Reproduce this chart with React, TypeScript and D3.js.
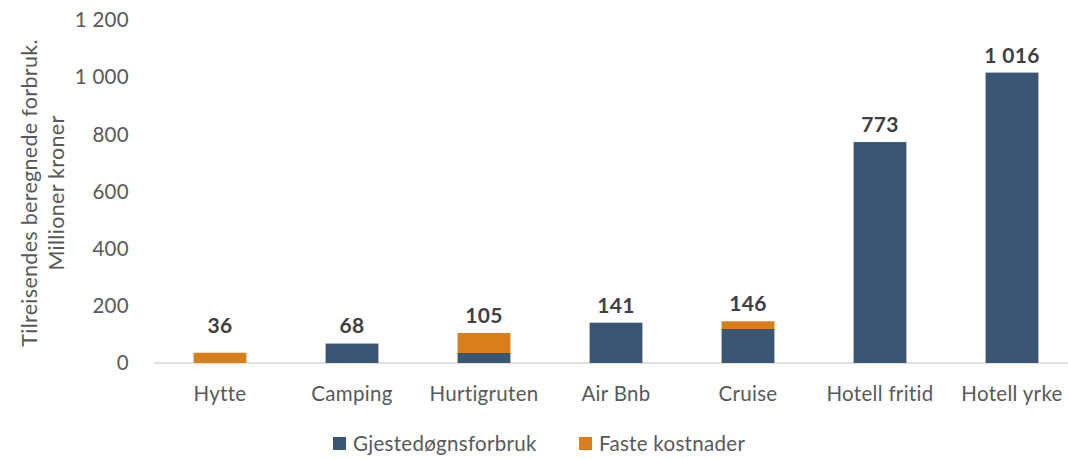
import React from "react";
import * as d3 from "d3";

const categories = ["Hytte", "Camping", "Hurtigruten", "Air Bnb", "Cruise", "Hotell fritid", "Hotell yrke"];
const gjestedogn = [0, 68, 35, 141, 119, 773, 1016];
const fasteKostnader = [36, 0, 70, 0, 27, 0, 0];
const totals = [36, 68, 105, 141, 146, 773, 1016];
const yTicks = [0, 200, 400, 600, 800, 1000, 1200];
const seriesNames = ["Gjestedøgnsforbruk", "Faste kostnader"];
const colors = ["#3A5674", "#D87E1A"];

const W = 1068;
const H = 459;
const FONT = "Lato, 'Open Sans', sans-serif";
const LS = 0.3;

const fmt = (v: number) => {
  const s = String(Math.round(v));
  return s.replace(/\B(?=(\d{3})+(?!\d))/g, " ");
};

export default function App() {
  const x = d3.scaleBand<string>().domain(categories).range([154, 1078]).paddingInner(0.6).paddingOuter(0.3);
  const y = d3.scaleLinear().domain([0, 1200]).range([363, 20]);
  const bw = x.bandwidth();

  return (
    <svg width={W} height={H} style={{ position: "absolute", left: 0, top: 0, background: "#fff" }} fontFamily={FONT} letterSpacing={LS}>
      {yTicks.map((t) => (
        <text key={t} x={129} y={y(t)} dy="0.35em" textAnchor="end" fontSize={20.5} fill="#595959">
          {fmt(t)}
        </text>
      ))}
      <g transform={`translate(0, 193) rotate(-90)`}>
        <text x={0} y={37} textAnchor="middle" fontSize={21.5} fill="#595959">Tilreisendes beregnede forbruk.</text>
        <text x={0} y={64} textAnchor="middle" fontSize={21.5} fill="#595959">Millioner kroner</text>
      </g>
      <line x1={154} x2={W} y1={y(0)} y2={y(0)} stroke="#D9D9D9" strokeWidth={1.5} />
      {categories.map((c, i) => {
        const x0 = x(c)!;
        const b = gjestedogn[i];
        const f = fasteKostnader[i];
        return (
          <g key={c}>
            {b > 0 && <rect x={x0} y={y(b)} width={bw} height={y(0) - y(b)} fill={colors[0]} />}
            {f > 0 && <rect x={x0} y={y(b + f)} width={bw} height={y(b) - y(b + f)} fill={colors[1]} />}
            <text
              x={x0 + bw / 2}
              y={Math.min(y(totals[i]) - 10, y(0) - 30)}
              textAnchor="middle"
              fontSize={21}
              fontWeight="bold"
              fill="#404040"
            >
              {fmt(totals[i])}
            </text>
            <text x={x0 + bw / 2} y={401} textAnchor="middle" fontSize={20.5} fill="#595959">
              {c}
            </text>
          </g>
        );
      })}
      <g>
        <rect x={333} y={437} width={13} height={13} fill={colors[0]} />
        <text x={353} y={451} fontSize={20.5} fill="#595959">{seriesNames[0]}</text>
        <rect x={579} y={437} width={13} height={13} fill={colors[1]} />
        <text x={599} y={451} fontSize={20.5} fill="#595959">{seriesNames[1]}</text>
      </g>
    </svg>
  );
}
